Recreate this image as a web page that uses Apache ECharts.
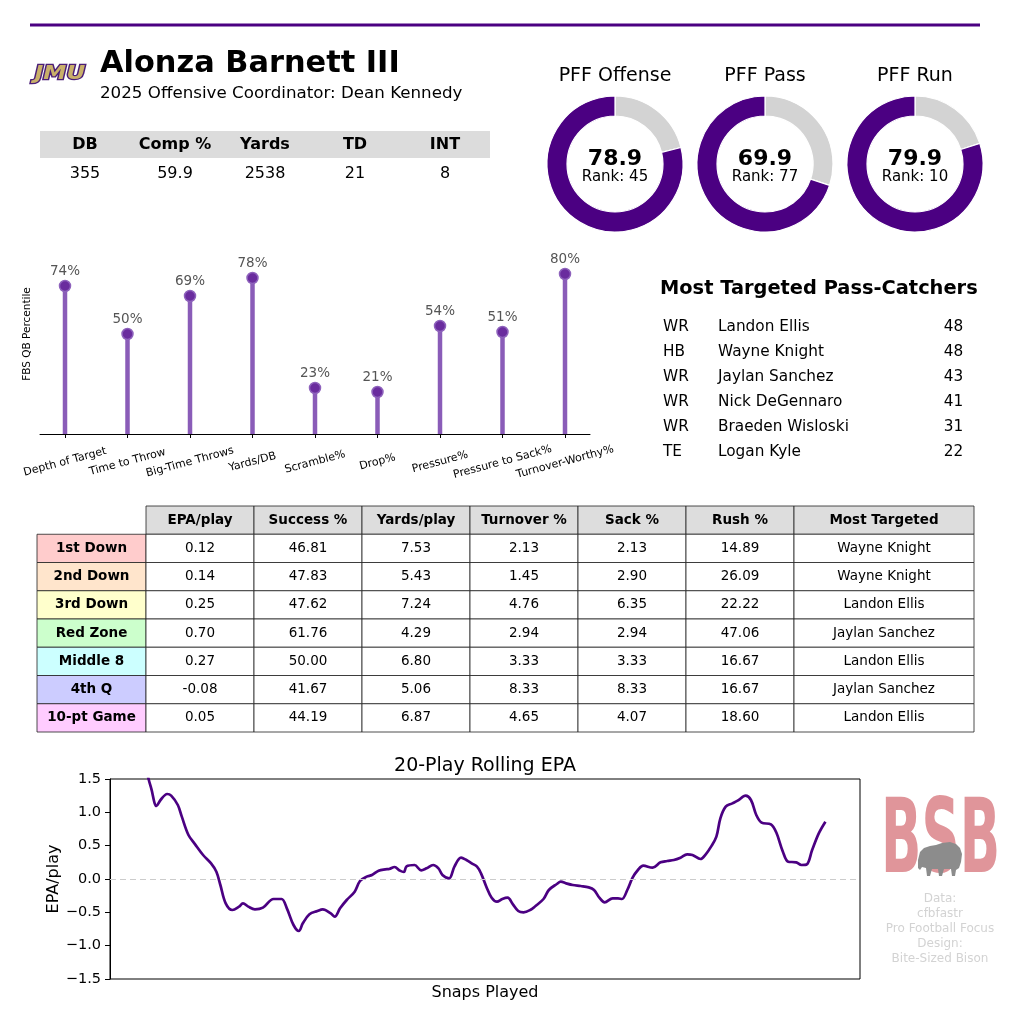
<!DOCTYPE html>
<html>
<head>
<meta charset="utf-8">
<script src="https://cdn.jsdelivr.net/npm/echarts@6/dist/echarts.min.js"></script>
<style>
html,body{margin:0;padding:0;background:#fff;}
#chart{width:1024px;height:1019px;}
</style>
</head>
<body>
<div id="chart"></div>
<script>
// ---------------- DATA ----------------
const playerName = 'Alonza Barnett III';
const subtitle = '2025 Offensive Coordinator: Dean Kennedy';

const statHeaders = ['DB', 'Comp %', 'Yards', 'TD', 'INT'];
const statValues = ['355', '59.9', '2538', '21', '8'];

const pffLabels = ['PFF Offense', 'PFF Pass', 'PFF Run'];
const pffGrades = [78.9, 69.9, 79.9];
const pffRanks = [45, 77, 10];

const lolliCats = ['Depth of Target', 'Time to Throw', 'Big-Time Throws', 'Yards/DB', 'Scramble%', 'Drop%', 'Pressure%', 'Pressure to Sack%', 'Turnover-Worthy%'];
const lolliVals = [74, 50, 69, 78, 23, 21, 54, 51, 80];

const catcherPos = ['WR', 'HB', 'WR', 'WR', 'WR', 'TE'];
const catcherNames = ['Landon Ellis', 'Wayne Knight', 'Jaylan Sanchez', 'Nick DeGennaro', 'Braeden Wisloski', 'Logan Kyle'];
const catcherTargets = [48, 48, 43, 41, 31, 22];

const sitHeaders = ['EPA/play', 'Success %', 'Yards/play', 'Turnover %', 'Sack %', 'Rush %', 'Most Targeted'];
const situations = ['1st Down', '2nd Down', '3rd Down', 'Red Zone', 'Middle 8', '4th Q', '10-pt Game'];
const epaPlay = [0.12, 0.14, 0.25, 0.70, 0.27, -0.08, 0.05];
const successPct = [46.81, 47.83, 47.62, 61.76, 50.00, 41.67, 44.19];
const yardsPlay = [7.53, 5.43, 7.24, 4.29, 6.80, 5.06, 6.87];
const turnoverPct = [2.13, 1.45, 4.76, 2.94, 3.33, 8.33, 4.65];
const sackPct = [2.13, 2.90, 6.35, 2.94, 3.33, 8.33, 4.07];
const rushPct = [14.89, 26.09, 22.22, 47.06, 16.67, 16.67, 18.60];
const mostTargeted = ['Wayne Knight', 'Wayne Knight', 'Landon Ellis', 'Jaylan Sanchez', 'Landon Ellis', 'Jaylan Sanchez', 'Landon Ellis'];

const snaps = [20,23,25,29,32,37,40,45,48,53,58,64,70,74,77,81,86,91,94,98,103,109,117,123,127,132,136,139,144,150,154,160,163,167,172,178,182,187,191,196,201,204,208,212,215,217,223,228,232,237,241,244,249,253,258,262,266,270,273,277,281,285,289,293,297,301,305,310,314,320,324,330,333,337,342,348,354,358,362,366,372,376,379,383,387,391,395,402,408,413,418,423,428,432,438,442,446,450,453,457,462,466,472,476,480,484,491,495,500,504,510,514,518,522,527,532];
const rollingEpa = [1.75,1.50,1.36,1.095,1.185,1.275,1.25,1.11,0.935,0.66,0.52,0.36,0.235,0.11,-0.09,-0.365,-0.465,-0.415,-0.365,-0.415,-0.455,-0.43,-0.30,-0.30,-0.44,-0.69,-0.78,-0.665,-0.53,-0.48,-0.455,-0.515,-0.565,-0.44,-0.315,-0.19,-0.03,0.035,0.06,0.125,0.145,0.15,0.18,0.125,0.105,0.19,0.21,0.13,0.16,0.21,0.16,0.06,0.01,0.185,0.32,0.285,0.235,0.185,0.085,-0.115,-0.28,-0.34,-0.30,-0.28,-0.38,-0.48,-0.50,-0.465,-0.405,-0.30,-0.165,-0.075,-0.04,-0.065,-0.09,-0.105,-0.125,-0.165,-0.28,-0.35,-0.29,-0.29,-0.30,-0.165,0.02,0.135,0.20,0.17,0.25,0.27,0.285,0.32,0.37,0.36,0.30,0.37,0.485,0.635,0.91,1.085,1.135,1.175,1.25,1.185,0.96,0.845,0.82,0.70,0.41,0.26,0.25,0.21,0.22,0.435,0.685,0.86];

const creditLines = ['Data:', 'cfbfastr', 'Pro Football Focus', 'Design:', 'Bite-Sized Bison'];

// ---------------- STYLE ----------------
const PURPLE = '#4B0082';
const GRAY = '#D3D3D3';
const FONT = 'DejaVu Sans';
const rowColors = ['#FFCCCC', '#FFE5CC', '#FFFFCC', '#CCFFCC', '#CCFFFF', '#CCCCFF', '#FFCCFF'];

function T(x, y, text, o) {
  return {
    type: 'text', x: x, y: y, silent: true, z: 10,
    style: Object.assign({
      text: text, fill: '#000', fontFamily: FONT, fontSize: 14,
      align: 'center', verticalAlign: 'middle', textAlign: 'center', textVerticalAlign: 'middle'
    }, o || {})
  };
}
function R(x, y, w, h, fill, stroke, lw) {
  return {
    type: 'rect', silent: true, z: 5,
    shape: { x: x, y: y, width: w, height: h },
    style: { fill: fill || 'none', stroke: stroke || null, lineWidth: lw || 0 }
  };
}

const g = [];
// top rule
g.push({ type: 'line', silent: true, shape: { x1: 30, y1: 25, x2: 980, y2: 25 }, style: { stroke: PURPLE, lineWidth: 3 } });
// JMU logo
g.push({ type: 'text', x: 60, y: 74, scaleX: 1.22, scaleY: 1, silent: true,
  style: { text: 'JMU', fontFamily: FONT, fontSize: 19, fontWeight: 'bold', fontStyle: 'italic', fill: '#C9B06A', stroke: '#4B1E78', lineWidth: 2.5,
    align: 'center', verticalAlign: 'middle', textAlign: 'center', textVerticalAlign: 'middle' } });
// title
g.push(T(100, 64, playerName, { fontSize: 30.4, fontWeight: 'bold', align: 'left', textAlign: 'left' }));
g.push(T(100, 94, subtitle, { fontSize: 16.7, align: 'left', textAlign: 'left' }));

// stats table
g.push(R(40, 131, 450, 27, '#DCDCDC'));
statHeaders.forEach(function (h, i) {
  const cx = 85 + i * 90;
  g.push(T(cx, 145, h, { fontSize: 16, fontWeight: 'bold' }));
  g.push(T(cx, 173.5, statValues[i], { fontSize: 16 }));
});

// donut texts
const donutCx = [615, 765, 915];
pffLabels.forEach(function (l, i) {
  g.push(T(donutCx[i], 76.5, l, { fontSize: 19 }));
  g.push(T(donutCx[i], 159.5, pffGrades[i].toFixed(1), { fontSize: 22, fontWeight: 'bold' }));
  g.push(T(donutCx[i], 177.5, 'Rank: ' + pffRanks[i], { fontSize: 15 }));
});

// most targeted
g.push(T(660, 289, 'Most Targeted Pass-Catchers', { fontSize: 19.4, fontWeight: 'bold', align: 'left', textAlign: 'left' }));
catcherNames.forEach(function (n, i) {
  const y = 327 + i * 25;
  g.push(T(663, y, catcherPos[i], { fontSize: 15.3, align: 'left', textAlign: 'left' }));
  g.push(T(718, y, n, { fontSize: 15.3, align: 'left', textAlign: 'left' }));
  g.push(T(953.5, y, String(catcherTargets[i]), { fontSize: 15.3 }));
});

// situational table
const colX = [37, 146, 254, 362, 470, 578, 686, 794, 974];
const rowH = 28.25, tTop = 506;
const cols = [epaPlay, successPct, yardsPlay, turnoverPct, sackPct, rushPct, mostTargeted];
for (let c = 0; c < sitHeaders.length; c++) {
  const x0 = colX[c + 1], x1 = colX[c + 2];
  g.push(R(x0, tTop, x1 - x0, rowH, '#DDDDDD', '#222', 0.8));
  g.push(T((x0 + x1) / 2, tTop + rowH / 2, sitHeaders[c], { fontSize: 13.5, fontWeight: 'bold' }));
}
situations.forEach(function (s, r) {
  const y0 = tTop + (r + 1) * rowH;
  g.push(R(colX[0], y0, colX[1] - colX[0], rowH, rowColors[r], '#222', 0.8));
  g.push(T((colX[0] + colX[1]) / 2, y0 + rowH / 2, s, { fontSize: 13.5, fontWeight: 'bold' }));
  cols.forEach(function (arr, c) {
    const x0 = colX[c + 1], x1 = colX[c + 2];
    const v = arr[r];
    g.push(R(x0, y0, x1 - x0, rowH, '#FFFFFF', '#222', 0.8));
    g.push(T((x0 + x1) / 2, y0 + rowH / 2, typeof v === 'number' ? v.toFixed(2) : v, { fontSize: 13.5 }));
  });
});

// rolling title
g.push(T(485, 766, '20-Play Rolling EPA', { fontSize: 19 }));

// BSB logo
g.push({ type: 'text', x: 881, y: 845, scaleX: 0.51, scaleY: 1, silent: true,
  style: { text: 'BSB', fontFamily: FONT, fontSize: 104, fontWeight: 'bold', fill: '#E0959A',
    align: 'left', verticalAlign: 'middle', textAlign: 'left', textVerticalAlign: 'middle' } });
g.push({ type: 'polygon', silent: true, z: 12,
  shape: { points: [[918,860],[920,852],[924,848],[930,846],[936,845],[942,843],[950,842],[956,844],[960,848],[962,854],[961,862],[959,868],[956,870],[955,876],[952,876],[951,869],[944,869],[942,876],[939,876],[938,869],[932,869],[930,876],[927,876],[926,868],[922,867],[920,870],[918,868]] },
  style: { fill: '#8C8C8C' } });
creditLines.forEach(function (l, i) {
  g.push(T(940, 899 + i * 15, l, { fontSize: 12, fill: '#D3D3D3' }));
});

// ---------------- CHART ----------------
const chart = echarts.init(document.getElementById('chart'), null, { renderer: 'canvas' });
const catIdx = lolliCats.map(function (_, i) { return i; });

const pies = pffGrades.map(function (v, i) {
  return {
    type: 'pie', center: [donutCx[i], 164], radius: [48, 68], startAngle: 90, clockwise: true,
    silent: true, label: { show: false }, labelLine: { show: false },
    itemStyle: { borderColor: '#fff', borderWidth: 1.2 },
    data: [
      { value: +(100 - v).toFixed(1), itemStyle: { color: GRAY } },
      { value: v, itemStyle: { color: PURPLE } }
    ]
  };
});

chart.setOption({
  animation: false,
  backgroundColor: '#fff',
  textStyle: { fontFamily: FONT },
  grid: [
    { left: 40, width: 550, top: 234, height: 200 },
    { left: 110, width: 750, top: 779, height: 200, show: true, borderColor: '#000', borderWidth: 1, backgroundColor: 'transparent' }
  ],
  xAxis: [
    {
      gridIndex: 0, type: 'value', min: -0.4, max: 8.4,
      axisLine: { show: true, onZero: false, lineStyle: { color: '#000', width: 1 } },
      axisTick: { show: true, customValues: catIdx, length: 4, lineStyle: { color: '#000' } },
      axisLabel: {
        customValues: catIdx, rotate: 15, fontSize: 11, color: '#000', margin: 28,
        align: 'center', verticalAlign: 'middle',
        formatter: function (v) { return lolliCats[Math.round(v)] || ''; }
      },
      splitLine: { show: false }
    },
    {
      gridIndex: 1, type: 'value', min: -6, max: 558,
      axisLine: { show: false, onZero: false }, axisTick: { show: false }, axisLabel: { show: false }, splitLine: { show: false },
      name: 'Snaps Played', nameLocation: 'middle', nameGap: 6, nameMoveOverlap: false,
      nameTextStyle: { fontSize: 16, color: '#000', verticalAlign: 'top' }
    }
  ],
  yAxis: [
    {
      gridIndex: 0, type: 'value', min: 0, max: 100,
      axisLine: { show: false, onZero: false }, axisTick: { show: false }, axisLabel: { show: false }, splitLine: { show: false },
      name: 'FBS QB Percentile', nameLocation: 'middle', nameGap: 7, nameMoveOverlap: false,
      nameTextStyle: { fontSize: 10.5, color: '#000' }
    },
    {
      gridIndex: 1, type: 'value', min: -1.5, max: 1.5, interval: 0.5,
      axisLine: { show: true, onZero: false, lineStyle: { color: '#000' } },
      axisTick: { show: true, length: 5, lineStyle: { color: '#000' } },
      axisLabel: { fontSize: 14.5, color: '#000', margin: 9,
        formatter: function (v) { return (v < 0 ? '\u2212' : '') + Math.abs(v).toFixed(1); } },
      splitLine: { show: false },
      name: 'EPA/play', nameLocation: 'middle', nameGap: 48, nameMoveOverlap: false,
      nameTextStyle: { fontSize: 16, color: '#000' }
    }
  ],
  series: [
    {
      type: 'custom', xAxisIndex: 0, yAxisIndex: 0, silent: true,
      data: lolliVals.map(function (v, i) { return [i, v]; }),
      renderItem: function (params, api) {
        const p0 = api.coord([api.value(0), 0]);
        const p1 = api.coord([api.value(0), api.value(1)]);
        return { type: 'line', shape: { x1: p0[0], y1: p0[1], x2: p1[0], y2: p1[1] },
          style: { stroke: '#8A5CB8', lineWidth: 4.5 } };
      }
    },
    {
      type: 'scatter', xAxisIndex: 0, yAxisIndex: 0, silent: true, symbolSize: 11, z: 3,
      data: lolliVals.map(function (v, i) { return [i, v]; }),
      itemStyle: { color: '#6A2C9E', borderColor: '#8E62BC', borderWidth: 1.5, opacity: 1 },
      label: { show: true, position: 'top', distance: 1, fontSize: 13.5, color: '#555',
        formatter: function (p) { return p.value[1] + '%'; } }
    },
    {
      type: 'line', xAxisIndex: 1, yAxisIndex: 1, silent: true,
      data: snaps.map(function (s, i) { return [s, rollingEpa[i]]; }),
      symbol: 'none', smooth: 0.35, clip: true,
      lineStyle: { color: PURPLE, width: 2.7 },
      markLine: {
        silent: true, symbol: ['none', 'none'], label: { show: false },
        lineStyle: { color: '#CCCCCC', type: [6, 4], width: 1 },
        data: [{ yAxis: 0 }]
      }
    }
  ].concat(pies),
  graphic: { elements: g }
});
</script>
</body>
</html>
